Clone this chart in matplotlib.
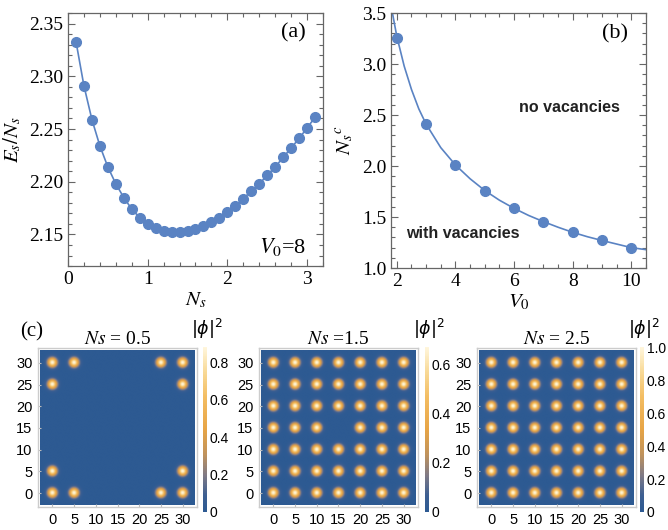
import numpy as np
import matplotlib
matplotlib.use('Agg')
import matplotlib.pyplot as plt
from matplotlib.colors import LinearSegmentedColormap
from matplotlib.ticker import MultipleLocator, FormatStrFormatter

plt.rcParams['font.family'] = ['Liberation Serif', 'DejaVu Serif']
plt.rcParams['mathtext.fontset'] = 'stix'

# (a) energy per particle vs Ns at V0=8
ns_vals = [0.1, 0.2, 0.3, 0.4, 0.5, 0.6, 0.7, 0.8, 0.9, 1.0,
           1.1, 1.2, 1.3, 1.4, 1.5, 1.6, 1.7, 1.8, 1.9, 2.0,
           2.1, 2.2, 2.3, 2.4, 2.5, 2.6, 2.7, 2.8, 2.9, 3.0, 3.1]
es_vals = [2.333, 2.291, 2.259, 2.234, 2.214, 2.198, 2.185, 2.174, 2.166, 2.160,
           2.156, 2.153, 2.152, 2.152, 2.153, 2.155, 2.158, 2.162, 2.166, 2.171,
           2.177, 2.184, 2.191, 2.198, 2.206, 2.214, 2.223, 2.232, 2.241, 2.251, 2.261]

# (b) critical Ns vs V0 (points + fitted curve)
v0_pts = [2, 3, 4, 5, 6, 7, 8, 9, 10]
nsc_pts = [3.26, 2.41, 2.01, 1.76, 1.585, 1.455, 1.35, 1.27, 1.20]
v0_curve = [1.85, 2.0, 2.25, 2.5, 2.75, 3.0, 3.5, 4.0, 4.5, 5.0, 5.5, 6.0,
            6.5, 7.0, 7.5, 8.0, 8.5, 9.0, 9.5, 10.0, 10.5]
nsc_curve = [3.50, 3.27, 2.98, 2.75, 2.56, 2.41, 2.18, 2.01, 1.875, 1.76, 1.665, 1.585,
             1.515, 1.455, 1.40, 1.35, 1.307, 1.27, 1.235, 1.20, 1.18]

# (c) density maps: dot centres and peak densities
grid = [0, 5, 10, 15, 20, 25, 30]
dots_05 = [(0, 30), (5, 30), (25, 30), (30, 30), (0, 25), (30, 25),
           (0, 5), (30, 5), (0, 0), (5, 0), (25, 0), (30, 0)]
dots_15 = [(x, y) for x in grid for y in grid if (x, y) != (15, 15)]
dots_25 = [(x, y) for x in grid for y in grid]
peaks = [0.88, 0.67, 1.0]
titles = [r'$Ns$ = 0.5', r'$Ns$ =1.5', r'$Ns$ = 2.5']
cb_ticks = [[0, 0.2, 0.4, 0.6, 0.8], [0, 0.2, 0.4, 0.6], [0, 0.2, 0.4, 0.6, 0.8, 1.0]]
cb_labels = [['0', '0.2', '0.4', '0.6', '0.8'], ['0', '0.2', '0.4', '0.6'],
             ['0', '0.2', '0.4', '0.6', '0.8', '1.0']]

blue = '#5a83c3'
frame = '#666666'

fig = plt.figure(figsize=(6.68, 5.30), dpi=100)


def style_top(ax):
    for s in ax.spines.values():
        s.set_color(frame)
        s.set_linewidth(0.9)
    ax.tick_params(which='both', direction='in', top=True, right=True,
                   color=frame, labelsize=14, width=0.8)
    ax.tick_params(which='major', length=5)
    ax.tick_params(which='minor', length=3)


# panel (a)
ax1 = fig.add_axes([0.1018, 0.498, 0.3817, 0.4774])
ax1.plot(ns_vals, es_vals, '-o', color=blue, lw=1.2, ms=7)
ax1.set_xlim(0, 3.2)
ax1.set_ylim(2.12, 2.36)
ax1.xaxis.set_major_locator(MultipleLocator(1))
ax1.xaxis.set_minor_locator(MultipleLocator(0.2))
ax1.yaxis.set_major_locator(MultipleLocator(0.05))
ax1.yaxis.set_minor_locator(MultipleLocator(0.01))
ax1.yaxis.set_major_formatter(FormatStrFormatter('%.2f'))
style_top(ax1)
ax1.set_xlabel(r'$N_s$', fontsize=15, labelpad=2)
ax1.set_ylabel(r'$E_s/N_s$', fontsize=15, labelpad=4)
ax1.text(0.885, 0.92, '(a)', transform=ax1.transAxes, fontsize=16, ha='center', va='center')
ax1.text(0.84, 0.075, r'$V_0$=8', transform=ax1.transAxes, fontsize=16, ha='center', va='center')

# panel (b)
ax2 = fig.add_axes([0.5853, 0.4943, 0.3817, 0.4811])
ax2.plot(v0_curve, nsc_curve, '-', color=blue, lw=1.2)
ax2.plot(v0_pts, nsc_pts, 'o', color=blue, ms=7)
ax2.set_xlim(1.8, 10.5)
ax2.set_ylim(1.0, 3.5)
ax2.xaxis.set_major_locator(MultipleLocator(2))
ax2.xaxis.set_minor_locator(MultipleLocator(0.5))
ax2.yaxis.set_major_locator(MultipleLocator(0.5))
ax2.yaxis.set_minor_locator(MultipleLocator(0.1))
ax2.yaxis.set_major_formatter(FormatStrFormatter('%.1f'))
style_top(ax2)
ax2.set_xlabel(r'$V_0$', fontsize=15, labelpad=2)
ax2.set_ylabel(r'$N_s{}^c$', fontsize=15, labelpad=4)
ax2.text(0.88, 0.92, '(b)', transform=ax2.transAxes, fontsize=16, ha='center', va='center')
ax2.text(7.9, 2.57, 'no vacancies', fontsize=11.5, fontweight='bold',
         family=['Liberation Sans'], ha='center', va='center', color='#222222')
ax2.text(4.25, 1.34, 'with vacancies', fontsize=11.5, fontweight='bold',
         family=['Liberation Sans'], ha='center', va='center', color='#222222')

# panel (c)
cmap = LinearSegmentedColormap.from_list('dens', [
    (0.0, '#2d5a92'), (0.1, '#3d5f92'), (0.22, '#7f7a86'), (0.35, '#c0935c'),
    (0.5, '#e7a445'), (0.7, '#f3bd62'), (0.85, '#f8d996'), (1.0, '#fff6dc')])

xs = np.linspace(-2.8, 32.8, 400)
X, Y = np.meshgrid(xs, xs)
sig = 0.75
lefts = [0.0569, 0.3877, 0.7141]
cb_lefts = [0.3035, 0.636, 0.958]
for i, dots in enumerate([dots_05, dots_15, dots_25]):
    Z = np.zeros_like(X)
    for (cx, cy) in dots:
        Z += np.exp(-((X - cx) ** 2 + (Y - cy) ** 2) / (2 * sig ** 2))
    Z *= peaks[i]
    ax = fig.add_axes([lefts[i], 0.0415, 0.238, 0.302])
    im = ax.imshow(Z, origin='lower', extent=[-2.8, 32.8, -2.8, 32.8], cmap=cmap,
                   vmin=0, vmax=peaks[i], interpolation='bilinear')
    ax.set_xlim(-3.3, 33.3)
    ax.set_ylim(-3.3, 33.3)
    ax.set_xticks(grid)
    ax.set_yticks(grid)
    for s in ax.spines.values():
        s.set_color('#cccccc')
        s.set_linewidth(1.0)
    ax.tick_params(direction='in', length=2.5, color='#bbbbbb', labelsize=10.5, pad=4)
    for lab in ax.get_xticklabels() + ax.get_yticklabels():
        lab.set_family(['Liberation Sans'])
    ax.set_title(titles[i], fontsize=14, pad=3)

    cax = fig.add_axes([cb_lefts[i], 0.034, 0.006, 0.311])
    cb = fig.colorbar(im, cax=cax)
    cb.outline.set_visible(False)
    cb.set_ticks(cb_ticks[i])
    cb.set_ticklabels(cb_labels[i])
    cax.tick_params(length=0, labelsize=10, pad=2)
    for lab in cax.get_yticklabels():
        lab.set_family(['Liberation Sans'])
    cax.text(1.0, 1.035, r'$|\phi|^2$', transform=cax.transAxes, fontsize=12.5,
             math_fontfamily='dejavusans', ha='center', va='bottom')

fig.text(0.048, 0.373, '(c)', fontsize=15, ha='center', va='center')

fig.savefig('out.png', dpi=100)
